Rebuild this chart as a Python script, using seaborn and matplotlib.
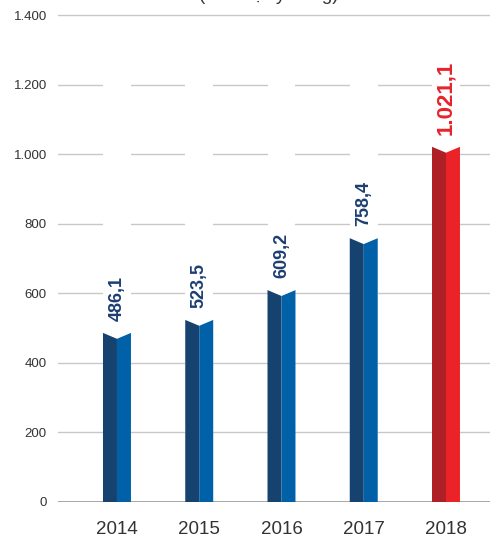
import numpy as np
import pandas as pd
import matplotlib
matplotlib.use('Agg')
import matplotlib.pyplot as plt
from matplotlib.patches import Polygon
import seaborn as sns

# chart data
years = ['2014', '2015', '2016', '2017', '2018']
values = [486.1, 523.5, 609.2, 758.4, 1021.1]
y_ticks = [0, 200, 400, 600, 800, 1000, 1200, 1400]
title = '(Đơn vị: tỷ đồng)'

blue_dark, blue_light = '#15426f', '#0061a9'
red_dark, red_light = '#ae1f26', '#ec2229'
blue_text, red_text = '#1c3e72', '#e8222a'


def vn_fmt(v, dec=1):
    s = f'{v:,.{dec}f}'
    return s.replace(',', 'X').replace('.', ',').replace('X', '.')


sns.set_style('white')
plt.rcParams['font.family'] = ['Liberation Sans', 'DejaVu Sans']

fig = plt.figure(figsize=(4.9, 5.43), dpi=100)
ax = fig.add_axes([58 / 490, 1 - 502 / 543, 1 - 58 / 490, (502 - 15) / 543])

df = pd.DataFrame({
    'year': years * 2,
    'value': values * 2,
    'half': ['L'] * len(years) + ['R'] * len(years),
})
sns.barplot(data=df, x='year', y='value', hue='half', width=0.34, gap=0,
            palette=[blue_dark, blue_light], legend=False, ax=ax,
            err_kws={'linewidth': 0})

# notch the bar tops and recolor the last year
notch = 17
cols = {}
rects = list(ax.patches)
for p in rects:
    x0, w, h = p.get_x(), p.get_width(), p.get_height()
    cx = x0 + w / 2
    idx = int(round(cx))
    left = cx < idx
    if idx == len(years) - 1:
        color = red_dark if left else red_light
    else:
        color = blue_dark if left else blue_light
    if left:
        pts = [(x0, 0), (x0, h), (x0 + w, h - notch), (x0 + w, 0)]
    else:
        pts = [(x0, 0), (x0, h - notch), (x0 + w, h), (x0 + w, 0)]
    ax.add_patch(Polygon(pts, closed=True, facecolor=color, edgecolor='none', zorder=3))
    lo, hi = cols.get(idx, (x0, x0 + w))
    cols[idx] = (min(lo, x0), max(hi, x0 + w))
    p.remove()

# gridlines broken at each bar column (top line stays whole)
for t in y_ticks[1:-1]:
    ax.axhline(t, color='#c8c8c8', linewidth=1, zorder=0)
for idx, (lo, hi) in cols.items():
    ax.axvspan(lo, hi, color='white', zorder=1, linewidth=0)
ax.axhline(y_ticks[-1], color='#c8c8c8', linewidth=1, zorder=2, clip_on=False)
ax.axhline(0, color='#8f8f8f', linewidth=1.1, zorder=2)

# value labels
for i, v in enumerate(values):
    is_last = i == len(values) - 1
    ax.text(i, v + 34, vn_fmt(v), rotation=90, ha='center', va='bottom',
            fontsize=16 if is_last else 13, fontweight='bold',
            color=red_text if is_last else blue_text, zorder=4,
            bbox=dict(facecolor='white', edgecolor='none', pad=1))

ax.set_ylim(0, 1400)
ax.set_xlim(-0.717, 4.535)
ax.set_yticks(y_ticks)
ax.set_yticklabels([vn_fmt(t, 0) for t in y_ticks])
ax.tick_params(axis='y', length=0, pad=8, labelsize=9.5, labelcolor='#333333')
ax.tick_params(axis='x', length=0, pad=14, labelsize=13.5, labelcolor='#333333')
ax.set_xlabel('')
ax.set_ylabel('')
for s in ax.spines.values():
    s.set_visible(False)

fig.text(0.549, 1.0, title, ha='center', va='baseline',
         fontsize=13.5, color='#333333')

fig.savefig('out.png', dpi=100, facecolor='white')
